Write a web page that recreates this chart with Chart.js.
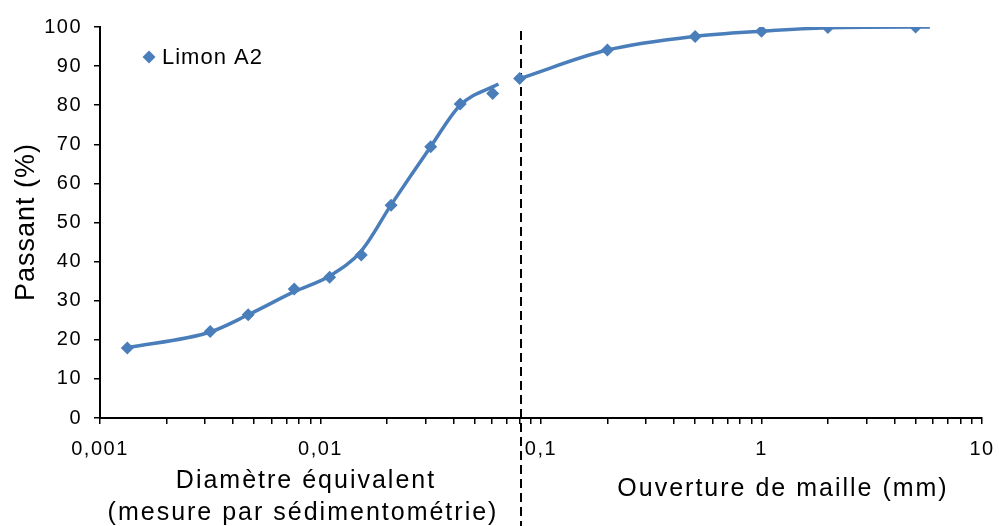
<!DOCTYPE html>
<html lang="fr">
<head>
    <meta charset="UTF-8">
    <title>Limon A2 - courbe granulométrique</title>
    <style>
        body {
            margin: 0;
            padding: 0;
            background-color: #fff;
        }
        #granulo-chart {
            display: block;
        }
    </style>
</head>
<body>
    <canvas id="granulo-chart" width="999" height="526"></canvas>

    <script src="https://cdn.jsdelivr.net/npm/chart.js"></script>
    <script>
        // mesured points (diameter in mm, % passing)
        const pointDiameters = [0.00133, 0.00316, 0.0047, 0.0076, 0.011, 0.0153, 0.0209, 0.0316, 0.043, 0.0604, 0.08, 0.2, 0.5, 1, 2, 5];
        const pointPassing = [17.9, 22.1, 26.4, 33.0, 36.0, 41.7, 54.4, 69.4, 80.3, 83.0, 86.8, 94.1, 97.6, 98.9, 99.9, 100];

        // fitted curve, sedimentation part
        const sedimCurveX = [0.00133, 0.00316, 0.0047, 0.0076, 0.011, 0.0153, 0.0209, 0.0316, 0.043, 0.0641];
        const sedimCurveY = [18.0, 22.0, 26.4, 32.3, 36.3, 42.7, 54.5, 69.4, 80.0, 85.4];

        // fitted curve, sieving part
        const sieveCurveX = [0.08, 0.2, 0.5, 1, 2, 5, 5.8];
        const sieveCurveY = [86.8, 94.1, 97.6, 98.9, 99.8, 100, 100];

        const xMajorTicks = [0.001, 0.01, 0.1, 1, 10];
        const sieveLimit = 0.081; // dashed separation line
        const seriesName = 'Limon A2';

        const blue = '#4A7EBB';
        const fontFamily = '"Liberation Sans", Arial, sans-serif';

        function toXY(xs, ys) {
            return xs.map((x, i) => ({ x: x, y: ys[i] }));
        }

        function formatFr(v) {
            return String(v).replace('.', ',');
        }

        const overlayPlugin = {
            id: 'overlay',
            beforeUpdate(chart) {
                chart.ctx.letterSpacing = '1.5px';
            },
            beforeDraw(chart) {
                chart.ctx.letterSpacing = '1.5px';
            },
            beforeDatasetsDraw(chart) {
                const ctx = chart.ctx;
                const xs = chart.scales.x;
                const px = Math.round(xs.getPixelForValue(sieveLimit));
                ctx.save();
                ctx.strokeStyle = '#000';
                ctx.lineWidth = 2;
                ctx.setLineDash([9, 5]);
                ctx.beginPath();
                ctx.moveTo(px, 31);
                ctx.lineTo(px, 526);
                ctx.stroke();
                ctx.restore();
            },
            afterDraw(chart) {
                const ctx = chart.ctx;
                ctx.save();
                ctx.fillStyle = '#000';

                // y axis title
                ctx.letterSpacing = '1px';
                ctx.font = '27px ' + fontFamily;
                ctx.textAlign = 'center';
                ctx.textBaseline = 'middle';
                ctx.save();
                ctx.translate(27, 222);
                ctx.rotate(-Math.PI / 2);
                ctx.fillText('Passant (%)', 0, 0);
                ctx.restore();

                // x axis titles
                ctx.letterSpacing = '2px';
                ctx.font = '25px ' + fontFamily;
                ctx.textBaseline = 'alphabetic';
                ctx.fillText('Diamètre équivalent', 306, 488);
                ctx.fillText('(mesure par sédimentométrie)', 303, 520);
                ctx.fillText('Ouverture de maille (mm)', 783, 496);

                // legend
                const lx = 149, ly = 57, r = 6.5;
                ctx.fillStyle = blue;
                ctx.beginPath();
                ctx.moveTo(lx, ly - r);
                ctx.lineTo(lx + r, ly);
                ctx.lineTo(lx, ly + r);
                ctx.lineTo(lx - r, ly);
                ctx.closePath();
                ctx.fill();
                ctx.fillStyle = '#000';
                ctx.letterSpacing = '1px';
                ctx.font = '22px ' + fontFamily;
                ctx.textAlign = 'left';
                ctx.fillText(seriesName, 162, 64);
                ctx.restore();
            }
        };

        const ctx = document.getElementById('granulo-chart').getContext('2d');
        const chart = new Chart(ctx, {
            type: 'scatter',
            data: {
                datasets: [
                    {
                        label: 'courbe sédimentométrie',
                        data: toXY(sedimCurveX, sedimCurveY),
                        showLine: true,
                        borderColor: blue,
                        borderWidth: 3.5,
                        pointRadius: 0,
                        cubicInterpolationMode: 'monotone'
                    },
                    {
                        label: 'courbe tamisage',
                        data: toXY(sieveCurveX, sieveCurveY),
                        showLine: true,
                        borderColor: blue,
                        borderWidth: 3.5,
                        pointRadius: 0,
                        cubicInterpolationMode: 'monotone'
                    },
                    {
                        label: seriesName,
                        data: toXY(pointDiameters, pointPassing),
                        showLine: false,
                        pointStyle: 'rectRot',
                        pointRadius: 6.5,
                        pointBackgroundColor: blue,
                        pointBorderColor: blue,
                        pointBorderWidth: 0
                    }
                ]
            },
            options: {
                responsive: false,
                animation: false,
                devicePixelRatio: 1,
                layout: {
                    padding: { top: 27, right: 17, left: 0, bottom: 0 }
                },
                plugins: {
                    legend: { display: false },
                    tooltip: { enabled: false }
                },
                scales: {
                    x: {
                        type: 'logarithmic',
                        min: 0.001,
                        max: 10,
                        afterFit(scale) {
                            scale.height = 108;
                            scale.paddingLeft = 0;
                            scale.paddingRight = 0;
                        },
                        afterBuildTicks(scale) {
                            const ticks = [];
                            xMajorTicks.forEach((m, i) => {
                                ticks.push({ value: m, major: true });
                                if (i < xMajorTicks.length - 1) {
                                    for (let k = 2; k <= 9; k++) {
                                        ticks.push({ value: m * k, major: false });
                                    }
                                }
                            });
                            scale.ticks = ticks;
                        },
                        border: { display: true, color: '#000', width: 2 },
                        grid: {
                            display: true,
                            drawOnChartArea: false,
                            drawTicks: true,
                            tickLength: 6,
                            color: '#000',
                            lineWidth: 1.5
                        },
                        ticks: {
                            autoSkip: false,
                            maxRotation: 0,
                            padding: 13,
                            color: '#000',
                            font: { family: fontFamily, size: 20 },
                            callback(value) {
                                return xMajorTicks.some(m => Math.abs(m - value) / m < 1e-6) ? formatFr(value) : '';
                            }
                        }
                    },
                    y: {
                        min: 0,
                        max: 100,
                        afterFit(scale) { scale.width = 100; },
                        border: { display: true, color: '#000', width: 2 },
                        grid: {
                            display: true,
                            drawOnChartArea: false,
                            drawTicks: true,
                            tickLength: 6,
                            color: '#000',
                            lineWidth: 1.5
                        },
                        ticks: {
                            stepSize: 10,
                            padding: 12,
                            color: '#000',
                            font: { family: fontFamily, size: 20 }
                        }
                    }
                }
            },
            plugins: [overlayPlugin]
        });
    </script>
</body>
</html>
